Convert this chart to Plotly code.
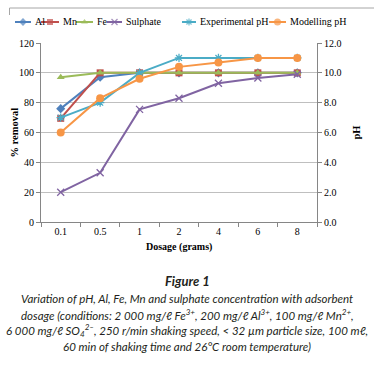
import plotly.graph_objects as go

W, H = 374, 365

# ---------------- data ----------------
dosage = ["0.1", "0.5", "1", "2", "4", "6", "8"]
al = [76, 97, 100, 100, 100, 100, 100]
mn = [69.5, 100, 100, 100, 100, 100, 100]
fe = [97, 100, 100, 100, 100, 100, 100]
sulphate = [20, 33, 75.5, 83, 93, 96.5, 99]
exp_ph = [7.0, 8.0, 10.0, 11.0, 11.0, 11.0, 11.0]
mod_ph = [6.0, 8.3, 9.6, 10.4, 10.7, 11.0, 11.0]

left_ticks = [0, 20, 40, 60, 80, 100, 120]
right_ticks = [0, 2, 4, 6, 8, 10, 12]

names = ["Al", "Mn", "Fe", "Sulphate", "Experimental pH", "Modelling pH"]
colors = ["#4F81BD", "#C0504D", "#9BBB59", "#8064A2", "#4BACC6", "#F79646"]
symbols = ["diamond", "square", "triangle-up", "x-thin", "asterisk", "circle"]
msizes = [7, 7, 7, 7, 7, 8]
series = [al, mn, fe, sulphate, exp_ph, mod_ph]
on_right = [False, False, False, False, True, True]

# ---------------- layout constants (pixels) ----------------
PL, PR, PT, PB = 41, 317, 43, 222
SERIF = "Liberation Serif, Times New Roman, serif"
CAPF = "Lato, Liberation Sans, sans-serif"
leg_y = 22
leg_line = [(15, 31), (41, 59), (76, 93), (107, 122), (182, 196), (269, 286)]
leg_text_x = [33, 61, 95, 124, 198, 288]

def px(x):
    return x / W

def py(y):
    return 1 - y / H

fig = go.Figure()

for i, (nm, c, s, ms, ys, r) in enumerate(zip(names, colors, symbols, msizes, series, on_right)):
    open_sym = s in ("x-thin", "asterisk")
    marker = dict(symbol=s, size=ms, color=c,
                  line=dict(color=c, width=1.3 if open_sym else 0))
    fig.add_trace(go.Scatter(
        x=dosage, y=ys, name=nm, mode="lines+markers",
        line=dict(color=c, width=2), marker=marker,
        xaxis="x", yaxis="y2" if r else "y", showlegend=False,
    ))
    # manual legend sample
    x0, x1 = leg_line[i]
    fig.add_trace(go.Scatter(
        x=[x0, (x0 + x1) / 2, x1], y=[leg_y] * 3, mode="lines+markers",
        line=dict(color=c, width=2),
        marker=dict(symbol=s, size=[0, ms - 1, 0], color=c,
                    line=dict(color=c, width=1.3 if open_sym else 0)),
        xaxis="x3", yaxis="y3", showlegend=False, hoverinfo="skip",
    ))

annotations = []
for i, nm in enumerate(names):
    annotations.append(dict(x=px(leg_text_x[i]), y=py(leg_y), xref="paper", yref="paper",
                            text=nm, showarrow=False, xanchor="left", yanchor="middle",
                            font=dict(family=SERIF, size=10, color="#000")))

annotations += [
    dict(x=px(14), y=py((PT + PB) / 2), xref="paper", yref="paper", text="<b>% removal</b>",
         textangle=-90, showarrow=False, xanchor="center", yanchor="middle",
         font=dict(family=SERIF, size=10.5, color="#000")),
    dict(x=px(356), y=py((PT + PB) / 2), xref="paper", yref="paper", text="<b>pH</b>",
         textangle=-90, showarrow=False, xanchor="center", yanchor="middle",
         font=dict(family=SERIF, size=10.5, color="#000")),
    dict(x=px((PL + PR) / 2), y=py(247), xref="paper", yref="paper", text="<b>Dosage (grams)</b>",
         showarrow=False, xanchor="center", yanchor="middle",
         font=dict(family=SERIF, size=10, color="#000")),
]

cap_lines = [
    ("<b>Figure 1</b>", 281, 13),
    ("Variation of pH, Al, Fe, Mn and sulphate concentration with adsorbent", 298, 11.5),
    ("dosage (conditions: 2 000 mg/ℓ Fe<sup>3+</sup>, 200 mg/ℓ Al<sup>3+</sup>, 100 mg/ℓ Mn<sup>2+</sup>,", 314, 11.5),
    ("6 000 mg/ℓ SO<sub>4</sub><sup>2–</sup>, 250 r/min shaking speed, &lt; 32 µm particle size, 100 mℓ,", 330, 11.5),
    ("60 min of shaking time and 26°C room temperature)", 346, 11.5),
]
for t, y, sz in cap_lines:
    annotations.append(dict(x=0.5, y=py(y), xref="paper", yref="paper", text=t, showarrow=False,
                            xanchor="center", yanchor="middle",
                            font=dict(family=CAPF, size=sz, color="#231F20", style="italic")))

frame = "#A6A6A6"
shapes = [
    dict(type="line", xref="paper", yref="paper", x0=px(9.5), x1=1.0, y0=py(8), y1=py(8),
         line=dict(color=frame, width=1)),
    dict(type="line", xref="paper", yref="paper", x0=px(9.5), x1=px(9.5), y0=py(8), y1=py(15),
         line=dict(color=frame, width=1)),
]

axis_col = "#868686"
fig.update_layout(
    width=W, height=H,
    margin=dict(l=0, r=0, t=0, b=0),
    paper_bgcolor="white", plot_bgcolor="rgba(0,0,0,0)",
    showlegend=False,
    xaxis=dict(domain=[px(PL), px(PR)], anchor="y", type="category",
               categoryorder="array", categoryarray=dosage, range=[-0.5, 6.5],
               tickson="boundaries", ticks="outside", ticklen=4, tickcolor=axis_col,
               showline=True, linecolor=axis_col, linewidth=1, showgrid=False,
               tickfont=dict(family=SERIF, size=10, color="#000"), automargin=False),
    yaxis=dict(domain=[py(PB), py(PT)], anchor="x", range=[0, 120], tickvals=left_ticks,
               ticks="outside", ticklen=4, tickcolor=axis_col, showline=True,
               linecolor=axis_col, linewidth=1, showgrid=True, gridcolor="#BFBFBF",
               gridwidth=1, zeroline=False,
               tickfont=dict(family=SERIF, size=10, color="#000"), automargin=False),
    yaxis2=dict(overlaying="y", side="right", anchor="x", range=[0, 12], tickvals=right_ticks,
                tickformat=".1f", ticks="outside", ticklen=4, tickcolor=axis_col,
                showline=True, linecolor=axis_col, linewidth=1, showgrid=False,
                zeroline=False, tickfont=dict(family=SERIF, size=10, color="#000"),
                automargin=False),
    xaxis3=dict(domain=[0, 1], anchor="y3", range=[0, W], visible=False, fixedrange=True),
    yaxis3=dict(domain=[0, 1], anchor="x3", range=[H, 0], visible=False, fixedrange=True),
    annotations=annotations,
    shapes=shapes,
)

fig.write_html(
    "out.html",
    config={"displayModeBar": False},
    post_script="document.body.style.margin='0';document.body.style.overflow='hidden';",
)
